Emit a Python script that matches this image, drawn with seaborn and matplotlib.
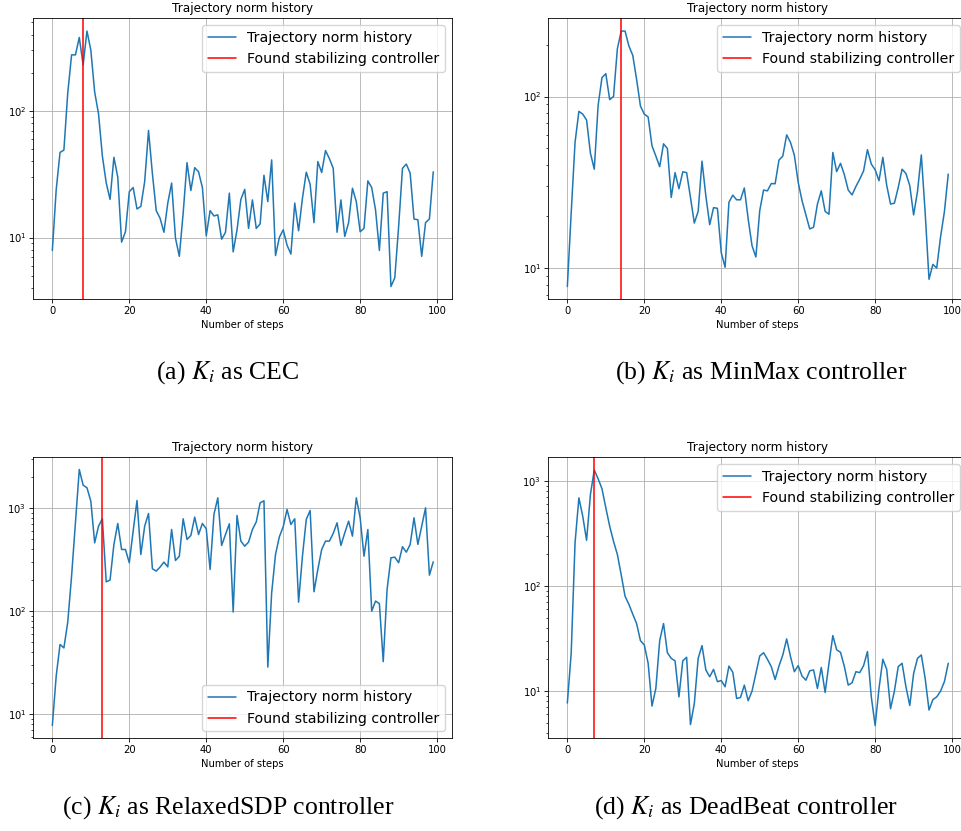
import matplotlib
matplotlib.use("Agg")
import matplotlib.pyplot as plt
import seaborn as sns
import numpy as np
import pandas as pd

# Trajectory norm per step for each controller choice
steps = list(range(100))

cec = [7.9, 23.8, 47, 49, 138, 277, 277, 380, 231, 427,
       302, 141, 95, 44, 27, 20, 43, 30, 9.2, 11.1,
       23, 24.8, 16.8, 17.6, 27.7, 70, 32, 16.3, 14.2, 11,
       18.7, 26.9, 9.9, 7.1, 15.6, 39, 23.5, 35.6, 33, 24.8,
       10.3, 16.3, 14.8, 15.1, 9.7, 11, 22.4, 7.7, 11.5, 20,
       24, 11.8, 19.8, 11.8, 12.8, 31, 19.2, 41, 7.2, 10,
       11.5, 8.7, 7.4, 18.7, 11.3, 20.4, 32.8, 26.3, 13.1, 39.8,
       32.6, 48.6, 42, 35.2, 11, 19.8, 10.2, 13.1, 24.5, 19.2,
       11.1, 11.8, 28, 24.8, 16.5, 7.9, 22.4, 23, 4.1, 4.8,
       12.2, 35.2, 38, 32.2, 14, 13.8, 7.1, 13.1, 14, 33]

minmax = [7.8, 21, 54, 82, 79, 73, 46.7, 37.7, 89, 129,
          136, 96, 100, 190, 241, 241, 197, 174, 126, 88,
          79, 76, 51.6, 45, 39, 53, 49.8, 25.8, 36, 29,
          36.4, 36, 25.8, 18.3, 21.4, 42, 26.3, 17.9, 22.5, 22.3,
          12.3, 10.1, 24.2, 26.6, 25, 25, 29.3, 19.3, 13.5, 11.6,
          21.6, 28.5, 28.2, 31.1, 31, 42.6, 45, 59.8, 54, 45.5,
          31.6, 24.7, 20.4, 16.9, 17.3, 23.6, 28.2, 21.4, 20.6, 47.2,
          36.5, 40.8, 35, 28.5, 26.7, 29.9, 33, 36.9, 49, 40.4,
          37.4, 32.3, 44.2, 30.4, 23.6, 23.9, 29.5, 37.7, 35.6, 30.2,
          20.4, 27.9, 45.7, 21, 8.6, 10.5, 10, 15.2, 21.3, 35.3]

relaxed_sdp = [7.8, 23.5, 47.5, 44, 78, 218, 716, 2350, 1657, 1563,
               1160, 458, 665, 783, 192, 200, 442, 705, 395, 395,
               294, 594, 1178, 353, 665, 881, 257, 244, 267, 298,
               268, 617, 309, 340, 783, 494, 540, 813, 552, 705,
               627, 253, 861, 1250, 432, 552, 700, 98, 843, 476,
               425, 466, 617, 730, 1117, 1170, 28.7, 150, 353, 524,
               655, 964, 690, 783, 122, 340, 773, 942, 154, 253,
               395, 476, 476, 565, 716, 432, 572, 743, 532, 1250,
               800, 340, 617, 100, 125, 118, 32.4, 162, 328, 333,
               294, 420, 372, 442, 800, 442, 665, 1000, 223, 300]

deadbeat = [7.7, 22.9, 258, 692, 463, 273, 747, 1273, 1052, 845,
            556, 372, 267, 200, 128, 80, 67, 54, 44, 30.2,
            27.5, 18.4, 7.2, 10.6, 30.2, 44, 23.2, 20.5, 19.4, 8.8,
            19.4, 21, 4.8, 7.6, 20.5, 27.1, 15.9, 13.7, 16.1, 12.3,
            12.6, 11, 17.3, 15.1, 8.5, 8.7, 11.4, 8.1, 10, 14.7,
            21.6, 23.2, 20.1, 17.1, 12.9, 17.3, 22.1, 31.4, 21.3, 15.3,
            17.5, 13.9, 12.7, 15.6, 15.9, 10.6, 16.8, 9.7, 18.4, 33.8,
            24.7, 23.4, 17.1, 11.4, 12, 15.3, 15, 17.5, 23.8, 8.8,
            4.7, 10.6, 20.1, 16.1, 6.8, 10, 17.1, 18.4, 11, 7.3,
            14.7, 20.5, 22.1, 13.2, 6.6, 8.3, 8.8, 10, 12.3, 18.4]

# Step at which a stabilizing controller was found
found_steps = [8, 14, 13, 7]

captions = [r"(a) $K_i$ as CEC",
            r"(b) $K_i$ as MinMax controller",
            r"(c) $K_i$ as RelaxedSDP controller",
            r"(d) $K_i$ as DeadBeat controller"]

series = [cec, minmax, relaxed_sdp, deadbeat]
legend_locs = ["upper right", "upper right", "lower right", "upper right"]

sns.set_theme(style="ticks")
plt.rcParams.update({
    "font.family": ["DejaVu Sans"],
    "mathtext.fontset": "dejavusans",
    "axes.edgecolor": "black",
    "axes.linewidth": 0.6,
    "xtick.major.width": 0.6, "ytick.major.width": 0.6,
    "xtick.minor.width": 0.5, "ytick.minor.width": 0.5,
    "xtick.major.size": 2.6, "ytick.major.size": 2.6,
    "xtick.minor.size": 1.6, "ytick.minor.size": 1.6,
    "xtick.color": "black", "ytick.color": "black",
    "xtick.labelsize": 7.2, "ytick.labelsize": 7.2,
    "axes.labelsize": 7.2, "axes.titlesize": 8.7,
    "axes.titlepad": 4.3, "axes.labelpad": 2.9,
    "xtick.major.pad": 2.5, "ytick.major.pad": 2.5,
    "text.color": "black", "axes.labelcolor": "black",
})

W, H = 961, 831
fig = plt.figure(figsize=(W / 100, H / 100), dpi=100)
fig.patch.set_facecolor("white")

# axes boxes in pixels: left, right, top, bottom
boxes = [(33.3, 452.3, 18.3, 299.3),
         (548.3, 967.3, 18.3, 299.3),
         (33.3, 452.3, 456.7, 738.3),
         (548.3, 967.3, 457.3, 738.3)]

caption_pos = [(228, 379), (761, 379), (228, 814), (746, 814)]

for vals, found, box, loc, cap, cpos in zip(series, found_steps, boxes,
                                            legend_locs, captions, caption_pos):
    l, r, t, b = box
    ax = fig.add_axes([l / W, (H - b) / H, (r - l) / W, (b - t) / H])
    df = pd.DataFrame({"step": steps, "norm": vals})
    sns.lineplot(data=df, x="step", y="norm", ax=ax, color="#1f77b4",
                 linewidth=1.1, label="Trajectory norm history")
    ax.axvline(found, color="red", linewidth=1.1,
               label="Found stabilizing controller")
    ax.set_yscale("log")
    ax.grid(True, which="major", color="#b0b0b0", linewidth=0.6)
    ax.set_axisbelow(True)
    ax.set_title("Trajectory norm history")
    ax.set_xlabel("Number of steps")
    ax.set_ylabel("")
    ax.set_xticks([0, 20, 40, 60, 80, 100])
    for s in ax.spines.values():
        s.set_visible(True)
        s.set_color("black")
    ax.legend(loc=loc, fontsize=10.2, frameon=True, framealpha=0.8,
              edgecolor="#cccccc", fancybox=True)
    fig.text(cpos[0] / W, 1 - cpos[1] / H, cap, ha="center", va="baseline",
             fontsize=18.5, family="Liberation Serif",
             math_fontfamily="stix")

fig.savefig("out.png", dpi=100, facecolor="white")
